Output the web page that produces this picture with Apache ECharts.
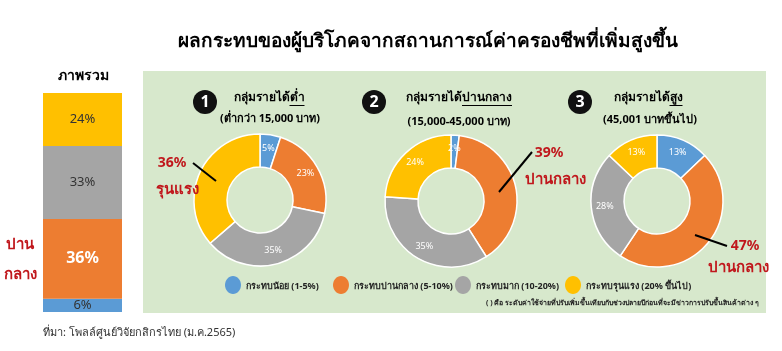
<!DOCTYPE html>
<html><head><meta charset="utf-8">
<script src="https://cdn.jsdelivr.net/npm/echarts@6/dist/echarts.min.js"></script>
<style>html,body{margin:0;padding:0;background:#fff}#c{width:782px;height:351px}</style>
</head><body><div id="c"></div>
<script>
const categories = ['กระทบน้อย (1-5%)', 'กระทบปานกลาง (5-10%)', 'กระทบมาก (10-20%)', 'กระทบรุนแรง (20% ขึ้นไป)'];
const overall = [6, 36, 33, 24];
const lowIncome = [5, 23, 35, 36];
const midIncome = [2, 39, 35, 24];
const highIncome = [13, 47, 28, 13];
const colors = ['#5b9bd5', '#ed7d31', '#a5a5a5', '#ffc000'];
const FONT = '"Noto Sans", "DejaVu Sans", sans-serif';
const RED = '#c0171c';

const chart = echarts.init(document.getElementById('c'), null, {renderer: 'canvas'});
const mctx = document.createElement('canvas').getContext('2d');
function measure(t, font) { mctx.font = font; return mctx.measureText(t).width; }

// hi: slice annotated outside, no inside label
function pie(center, vals, hi) {
  return {
    type: 'pie', center: center, radius: [33, 66], startAngle: 90, clockwise: true,
    silent: true, z: 5,
    itemStyle: {borderColor: '#fff', borderWidth: 1.5},
    label: {show: true, position: 'inside', formatter: '{c}%', color: '#fff', fontSize: 9, fontFamily: FONT},
    labelLine: {show: false},
    data: vals.map((v, i) => ({value: v, name: categories[i], itemStyle: {color: colors[i]},
      label: {show: i !== hi}}))
  };
}

const barSeries = overall.map((v, i) => ({
  type: 'bar', stack: 'all', barWidth: '100%', silent: true, z: 5,
  itemStyle: {color: colors[i]},
  label: {show: true, position: 'inside', formatter: v + '%',
    color: i === 1 ? '#fff' : '#333', fontSize: i === 1 ? 16 : 13, fontWeight: i === 1 ? 'bold' : 'normal', fontFamily: FONT},
  data: [v]
}));

function numCircle(x, y, n) {
  return [
    {type: 'circle', shape: {cx: x, cy: y, r: 12}, style: {fill: '#111'}, z: 10},
    {type: 'text', x: x, y: y, z: 11, style: {text: String(n), fill: '#fff', font: 'bold 16px ' + FONT, align: 'center', verticalAlign: 'middle'}}
  ];
}
function txt(x, y, t, font, fill, align) {
  return {type: 'text', x: x, y: y, z: 10, style: {text: t, font: font, fill: fill || '#000', align: align || 'center', verticalAlign: 'middle'}};
}
function line(x1, y1, x2, y2, w) {
  return {type: 'line', z: 10, shape: {x1: x1, y1: y1, x2: x2, y2: y2}, style: {stroke: '#000', lineWidth: w || 2}};
}
function underlined(cx, y, prefix, under, font) {
  const w1 = measure(prefix, font), w2 = measure(under, font);
  const x0 = cx - (w1 + w2) / 2;
  return [txt(x0, y, prefix, font, '#000', 'left'), txt(x0 + w1, y, under, font, '#000', 'left'),
    line(x0 + w1, y + 7.5, x0 + w1 + w2, y + 7.5, 1)];
}

const legendX = [233, 341, 463, 573];
const TF = 'bold 12px ' + FONT;
const graphics = [
  {type: 'rect', shape: {x: 143, y: 71, width: 623, height: 242}, style: {fill: '#d7e8cc'}, z: 0},
  txt(428, 42, 'ผลกระทบของผู้บริโภคจากสถานการณ์ค่าครองชีพที่เพิ่มสูงขึ้น', 'bold 19px ' + FONT),
  txt(83, 76, 'ภาพรวม', 'bold 14px ' + FONT),
  txt(20, 245, 'ปาน', 'bold 15px ' + FONT, RED),
  txt(20, 275, 'กลาง', 'bold 15px ' + FONT, RED),
  ...numCircle(205, 102, 1), ...numCircle(374, 102, 2), ...numCircle(580, 102, 3),
  ...underlined(269, 98, 'กลุ่มรายได้', 'ต่ำ', TF),
  txt(270, 119, '(ต่ำกว่า 15,000 บาท)', 'bold 11px ' + FONT),
  ...underlined(459, 98, 'กลุ่มรายได้', 'ปานกลาง', TF),
  txt(459, 122, '(15,000-45,000 บาท)', 'bold 11px ' + FONT),
  ...underlined(648, 98, 'กลุ่มรายได้', 'สูง', TF),
  txt(650, 120, '(45,001 บาทขึ้นไป)', 'bold 11px ' + FONT),
  txt(172, 163, '36%', 'bold 14px ' + FONT, RED),
  txt(177, 190, 'รุนแรง', 'bold 15px ' + FONT, RED),
  line(193, 163, 216, 181),
  txt(549, 153, '39%', 'bold 14px ' + FONT, RED),
  txt(555, 180, 'ปานกลาง', 'bold 15px ' + FONT, RED),
  line(499, 192, 532, 152),
  txt(745, 246, '47%', 'bold 14px ' + FONT, RED),
  txt(738, 268, 'ปานกลาง', 'bold 15px ' + FONT, RED),
  line(695, 235, 727, 246),
  txt(759, 303, '( ) คือ ระดับค่าใช้จ่ายที่ปรับเพิ่มขึ้นเทียบกับช่วงปลายปีก่อนที่จะมีข่าวการปรับขึ้นสินค้าต่าง ๆ', 'bold 7px ' + FONT, '#222', 'right'),
  txt(43, 333, 'ที่มา: โพลล์ศูนย์วิจัยกสิกรไทย (ม.ค.2565)', '11px ' + FONT, '#333', 'left')
];
categories.forEach((c, i) => {
  graphics.push({type: 'ellipse', z: 10, shape: {cx: legendX[i], cy: 285, rx: 8, ry: 9}, style: {fill: colors[i]}});
  graphics.push(txt(legendX[i] + 13, 286, c, 'bold 9px ' + FONT, '#222', 'left'));
});

chart.setOption({
  animation: false,
  grid: {left: 43, top: 93, width: 79, height: 219},
  xAxis: {type: 'category', data: ['ภาพรวม'], show: false},
  yAxis: {type: 'value', min: 0, max: 99, show: false},
  series: [...barSeries, pie([260, 200], lowIncome, 3), pie([451, 201], midIncome, 1), pie([657, 201], highIncome, 1)],
  graphic: graphics
});
</script></body></html>
